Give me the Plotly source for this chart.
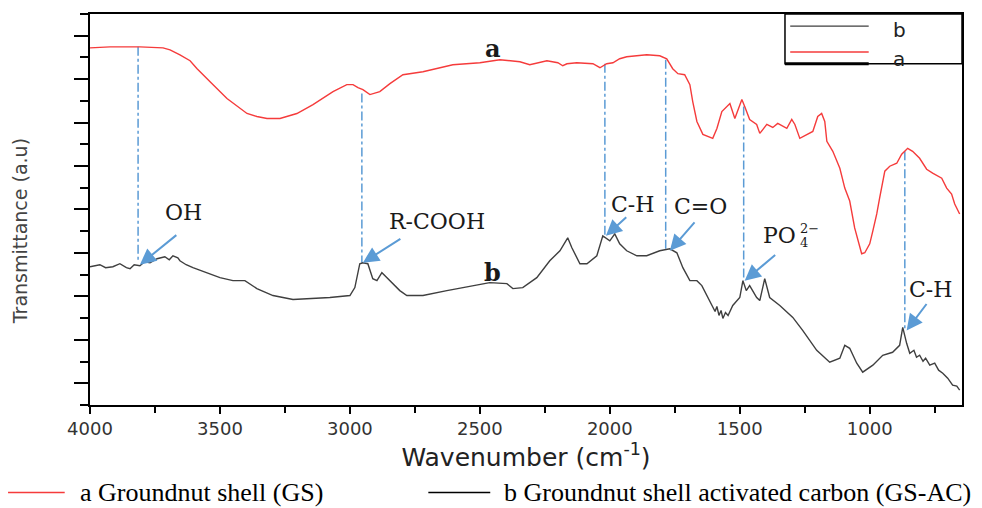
import plotly.graph_objects as go

# ---- data (wavenumber cm-1, transmittance a.u.) ----
wn_a = [4000, 3923, 3808, 3719, 3692, 3654, 3615, 3588, 3538, 3473, 3396, 3358, 3319, 3269,
        3204, 3142, 3065, 3012, 2988, 2969, 2950, 2923, 2885, 2846, 2796, 2719, 2604, 2500,
        2423, 2346, 2308, 2242, 2200, 2181, 2165, 2127, 2065, 2038, 2012, 1988, 1962, 1935,
        1858, 1808, 1781, 1758, 1738, 1712, 1692, 1681, 1665, 1642, 1604, 1588, 1569, 1538,
        1519, 1492, 1481, 1462, 1435, 1423, 1396, 1373, 1354, 1319, 1300, 1288, 1269, 1242,
        1219, 1200, 1185, 1173, 1165, 1142, 1115, 1096, 1077, 1058, 1046, 1031, 1019, 1000,
        988, 973, 962, 942, 923, 896, 877, 854, 835, 808, 781, 758, 723, 704, 685, 673, 654]
t_a = [359, 360, 360, 359, 357, 352, 346, 338, 325, 308, 293, 290, 288, 288,
       293, 302, 315, 322, 322, 319, 317, 312, 315, 323, 332, 335, 342, 344,
       347, 345, 342, 346, 344, 341, 343, 344, 343, 339, 343, 344, 348, 350,
       352, 351, 348, 338, 333, 332, 322, 305, 285, 272, 268, 278, 295, 303,
       288, 307, 300, 287, 282, 273, 282, 279, 283, 278, 287, 282, 268, 272,
       275, 290, 293, 285, 265, 255, 238, 218, 205, 178, 165, 152, 153, 162,
       175, 192, 208, 235, 240, 243, 252, 258, 255, 248, 237, 233, 228, 218, 212, 202, 192]

wn_b = [4000, 3962, 3940, 3912, 3885, 3860, 3846, 3830, 3808, 3790, 3769, 3742, 3712, 3695,
        3681, 3662, 3654, 3630, 3604, 3550, 3500, 3450, 3404, 3358, 3296, 3219, 3142, 3077,
        3000, 2981, 2962, 2950, 2931, 2912, 2896, 2877, 2865, 2835, 2808, 2781, 2719, 2627,
        2527, 2462, 2396, 2373, 2335, 2281, 2231, 2192, 2162, 2146, 2115, 2088, 2050, 2027,
        2000, 1981, 1962, 1935, 1896, 1858, 1808, 1769, 1742, 1731, 1719, 1692, 1665, 1646,
        1627, 1604, 1595, 1588, 1580, 1572, 1565, 1555, 1545, 1527, 1500, 1488, 1475, 1462,
        1435, 1423, 1404, 1385, 1346, 1296, 1258, 1204, 1154, 1115, 1096, 1077, 1050, 1027,
        988, 950, 912, 885, 873, 858, 846, 830, 820, 808, 795, 785, 769, 750, 735, 719,
        700, 681, 665, 654]
t_b = [139, 141, 138, 139, 142, 138, 137, 141, 140, 144, 143, 147, 149, 146,
       150, 148, 145, 141, 138, 133, 128, 125, 125, 117, 110, 106, 107, 108,
       110, 118, 142, 143, 142, 127, 125, 133, 130, 122, 115, 110, 110, 115,
       120, 123, 122, 117, 118, 128, 145, 155, 168, 158, 142, 142, 150, 170,
       165, 172, 162, 155, 150, 150, 155, 157, 153, 145, 138, 125, 125, 120,
       110, 98, 94, 99, 90, 95, 87, 93, 90, 100, 108, 125, 115, 120,
       108, 105, 127, 108, 100, 88, 75, 55, 43, 47, 60, 57, 42, 33,
       40, 50, 53, 60, 78, 62, 52, 55, 48, 50, 44, 47, 40, 42, 35, 32,
       27, 20, 19, 15]

# peak markers (vertical dash-dot guides)
peak_wn = [3815, 2954, 2019, 1785, 1485, 865]
peak_top = [360, 313, 343, 347, 300, 255]
peak_bot = [143, 143, 170, 155, 125, 75]

# band labels: text, label position, arrow tail, arrow head
band_text = ["OH", "R-COOH", "C-H", "C=O", "C-H"]
band_lx = [3642, 2665, 1912, 1650, 765]
band_ly = [193, 184, 202, 200, 116]
tail_x = [3662, 2800, 1931, 1669, 777]
tail_y = [172, 168, 190, 185, 103]
head_x = [3808, 2950, 2015, 1769, 858]
head_y = [141, 143, 170, 155, 75]
# phosphate label
po_x, po_y = 1277, 170
po_tail = (1358, 152)
po_head = (1481, 125)

series_a_name = "a Groundnut shell (GS)"
series_b_name = "b Groundnut shell activated carbon (GS-AC)"

RED = "#f53b3b"
GRAY = "#3f3f3f"
BLUE = "#5b9bd5"

fig = go.Figure()

for w, t0, t1 in zip(peak_wn, peak_top, peak_bot):
    fig.add_trace(go.Scatter(x=[w, w], y=[t0, t1], mode="lines",
                             line=dict(color=BLUE, width=1.5, dash="dashdot"),
                             showlegend=False, hoverinfo="skip"))

fig.add_trace(go.Scatter(x=wn_a, y=t_a, mode="lines", name=series_a_name,
                         line=dict(color=RED, width=1.4), showlegend=False))
fig.add_trace(go.Scatter(x=wn_b, y=t_b, mode="lines", name=series_b_name,
                         line=dict(color=GRAY, width=1.4), showlegend=False))

serif = "DejaVu Serif"
for txt, lx, ly, tx, ty, hx, hy in zip(band_text, band_lx, band_ly, tail_x, tail_y, head_x, head_y):
    fig.add_annotation(x=lx, y=ly, text=txt, showarrow=False, xref="x", yref="y",
                       xanchor="center", yanchor="middle",
                       font=dict(family=serif, size=22, color="#1a1a1a"))
    fig.add_annotation(x=hx, y=hy, ax=tx, ay=ty, xref="x", yref="y", axref="x", ayref="y",
                       text="", showarrow=True, arrowhead=2, arrowsize=1.6, arrowwidth=2,
                       arrowcolor=BLUE, standoff=0)

fig.add_annotation(x=po_x, y=po_y, text="PO", showarrow=False, xanchor="right", yanchor="middle",
                   font=dict(family=serif, size=22, color="#1a1a1a"))
fig.add_annotation(x=po_x, y=po_y + 7, text="2\u2212", showarrow=False, xanchor="left",
                   yanchor="middle", font=dict(family=serif, size=13, color="#1a1a1a"))
fig.add_annotation(x=po_x, y=po_y - 7, text="4", showarrow=False, xanchor="left",
                   yanchor="middle", font=dict(family=serif, size=13, color="#1a1a1a"))
fig.add_annotation(x=po_head[0], y=po_head[1], ax=po_tail[0], ay=po_tail[1],
                   xref="x", yref="y", axref="x", ayref="y", text="", showarrow=True,
                   arrowhead=2, arrowsize=1.6, arrowwidth=2, arrowcolor=BLUE, standoff=0)

# curve labels
fig.add_annotation(x=2450, y=358, text="<b>a</b>", showarrow=False,
                   xanchor="center", yanchor="middle",
                   font=dict(family=serif, size=24, color="#1a1a1a"))
fig.add_annotation(x=2450, y=133, text="<b>b</b>", showarrow=False,
                   xanchor="center", yanchor="middle",
                   font=dict(family=serif, size=24, color="#1a1a1a"))

# y-axis title
fig.add_annotation(x=-0.080, y=0.445, xref="paper", yref="paper", text="Transmittance (a.u)",
                   textangle=-90, showarrow=False, xanchor="center", yanchor="middle",
                   font=dict(family="DejaVu Sans", size=19, color="#444"))

# top-right legend box
fig.add_shape(type="rect", xref="paper", yref="paper", x0=0.797, x1=1.0, y0=0.873, y1=1.0,
              line=dict(color="black", width=1.5), fillcolor="white", layer="above")
fig.add_shape(type="line", xref="paper", yref="paper", x0=0.797, x1=0.893, y0=0.873, y1=0.873,
              line=dict(color="black", width=3), layer="above")
fig.add_shape(type="line", xref="paper", yref="paper", x0=0.803, x1=0.893, y0=0.969, y1=0.969,
              line=dict(color=GRAY, width=1.4), layer="above")
fig.add_shape(type="line", xref="paper", yref="paper", x0=0.803, x1=0.893, y0=0.903, y1=0.903,
              line=dict(color=RED, width=1.4), layer="above")
fig.add_annotation(x=0.928, y=0.960, xref="paper", yref="paper", text="b", showarrow=False,
                   xanchor="center", yanchor="middle",
                   font=dict(family="DejaVu Sans", size=20, color="#222"))
fig.add_annotation(x=0.928, y=0.886, xref="paper", yref="paper", text="a", showarrow=False,
                   xanchor="center", yanchor="middle",
                   font=dict(family="DejaVu Sans", size=20, color="#222"))

# bottom legend
fig.add_shape(type="line", xref="paper", yref="paper", x0=-0.094, x1=-0.029, y0=-0.224, y1=-0.224,
              line=dict(color=RED, width=1.5))
fig.add_annotation(x=-0.014, y=-0.224, xref="paper", yref="paper", text=series_a_name,
                   xanchor="left", yanchor="middle", showarrow=False,
                   font=dict(family="Liberation Serif", size=26, color="black"))
fig.add_shape(type="line", xref="paper", yref="paper", x0=0.388, x1=0.459, y0=-0.224, y1=-0.224,
              line=dict(color="black", width=1.5))
fig.add_annotation(x=0.472, y=-0.224, xref="paper", yref="paper", text=series_b_name,
                   xanchor="left", yanchor="middle", showarrow=False,
                   font=dict(family="Liberation Serif", size=26, color="black"))

fig.update_layout(
    width=982, height=508,
    margin=dict(l=90, r=20, t=12, b=103),
    paper_bgcolor="white", plot_bgcolor="white",
    xaxis=dict(range=[4000, 645], showgrid=False, zeroline=False,
               showline=True, linecolor="black", linewidth=1.5, mirror=True,
               ticks="outside", ticklen=7, tickcolor="black", tickwidth=1.5,
               tick0=0, dtick=500,
               minor=dict(ticks="outside", ticklen=6, tickcolor="black", tickwidth=1.5,
                          dtick=250, tick0=0, showgrid=False),
               tickfont=dict(family="DejaVu Sans", size=18, color="#333"),
               title=dict(text="Wavenumber (cm<sup>-1</sup>)", standoff=4,
                          font=dict(family="DejaVu Sans", size=25, color="#222"))),
    yaxis=dict(range=[0, 393], showgrid=False, zeroline=False, showticklabels=False,
               showline=True, linecolor="black", linewidth=1.5, mirror=True,
               ticks="outside", ticklen=14, tickcolor="black", tickwidth=1.5,
               tick0=21.83, dtick=43.67,
               minor=dict(ticks="outside", ticklen=8, tickcolor="black", tickwidth=1.5,
                          tick0=0, dtick=43.67, showgrid=False)),
)

fig.write_html("out.html")
